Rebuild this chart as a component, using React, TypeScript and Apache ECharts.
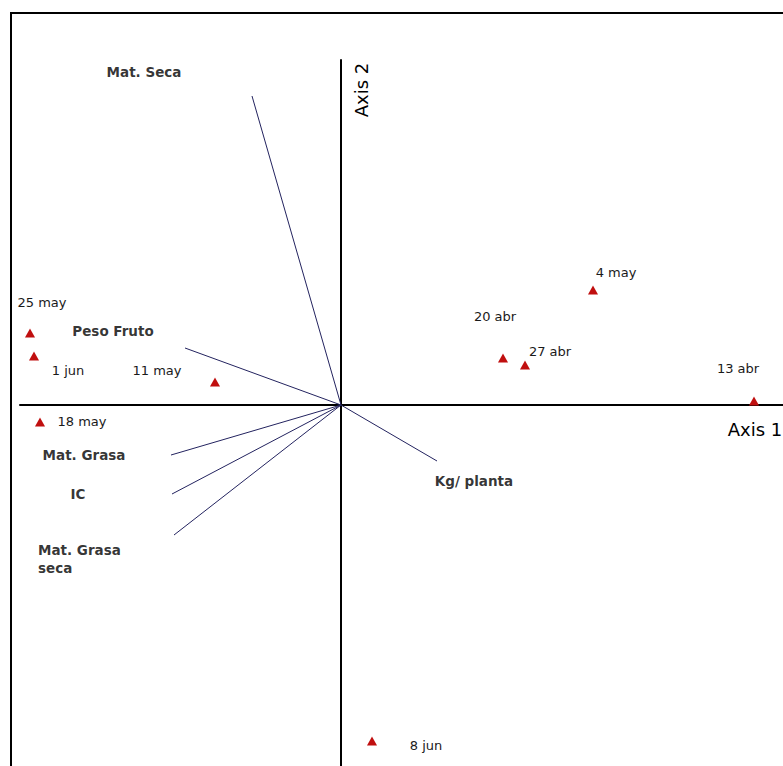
import React, { useEffect, useRef } from "react";
import * as echarts from "echarts";

// Sampling dates (object scores on axis 1 / axis 2)
const dateNames = ["25 may", "1 jun", "18 may", "11 may", "20 abr", "27 abr", "4 may", "13 abr", "8 jun"];
const dateAxis1 = [-1.555, -1.535, -1.505, -0.63, 0.81, 0.92, 1.26, 2.065, 0.155];
const dateAxis2 = [0.36, 0.245, -0.085, 0.115, 0.235, 0.2, 0.575, 0.02, -1.68];

// Variable vectors (loadings on axis 1 / axis 2)
const varNames = ["Mat. Seca", "Peso Fruto", "Mat. Grasa", "IC", "Mat. Grasa\nseca", "Kg/ planta"];
const varAxis1 = [-0.445, -0.78, -0.85, -0.845, -0.835, 0.48];
const varAxis2 = [1.545, 0.285, -0.25, -0.445, -0.65, -0.28];

// label placement relative to each mark (pixels)
const dateLabelOffset: Record<string, [number, number]> = {
  "25 may": [12, -31],
  "1 jun": [34, 14],
  "18 may": [42, -1],
  "11 may": [-58, -12],
  "20 abr": [-8, -42],
  "27 abr": [25, -14],
  "4 may": [23, -18],
  "13 abr": [-16, -33],
  "8 jun": [54, 4],
};
const varLabelLayout: Record<string, { offset: [number, number]; align: string }> = {
  "Mat. Seca": { offset: [-108, -24], align: "center" },
  "Peso Fruto": { offset: [-72, -17], align: "center" },
  "Mat. Grasa": { offset: [-87, 0], align: "center" },
  IC: { offset: [-94, 0], align: "center" },
  "Mat. Grasa\nseca": { offset: [-136, 24], align: "left" },
  "Kg/ planta": { offset: [37, 20], align: "center" },
};

const FONT = "'DejaVu Sans', Arial, sans-serif";

export default function App() {
  const ref = useRef<HTMLDivElement>(null);

  useEffect(() => {
    if (!ref.current) return;
    const chart = echarts.init(ref.current, undefined, { renderer: "svg" });

    const dateData = dateNames.map((n, i) => ({
      name: n,
      value: [dateAxis1[i], dateAxis2[i]],
      label: { offset: dateLabelOffset[n] },
    }));
    const vectorData = varNames.map((n, i) => ({
      name: n,
      coords: [
        [0, 0],
        [varAxis1[i], varAxis2[i]],
      ],
    }));
    const varLabelData = varNames.map((n, i) => ({
      name: n,
      value: [varAxis1[i], varAxis2[i]],
      label: { offset: varLabelLayout[n].offset, align: varLabelLayout[n].align },
    }));

    chart.setOption({
      animation: false,
      backgroundColor: "#ffffff",
      grid: { left: 20, right: 0, top: 60, bottom: 0, containLabel: false },
      xAxis: {
        type: "value",
        min: -1.605,
        max: 2.21,
        axisLine: { show: true, onZero: true, lineStyle: { color: "#000", width: 2 } },
        axisTick: { show: false },
        axisLabel: { show: false },
        splitLine: { show: false },
      },
      yAxis: {
        type: "value",
        min: -1.805,
        max: 1.725,
        axisLine: { show: true, onZero: true, lineStyle: { color: "#000", width: 2 } },
        axisTick: { show: false },
        axisLabel: { show: false },
        splitLine: { show: false },
      },
      graphic: [
        { type: "line", shape: { x1: 10, y1: 13, x2: 783, y2: 13 }, style: { stroke: "#000", lineWidth: 2 } },
        { type: "line", shape: { x1: 11, y1: 12, x2: 11, y2: 766 }, style: { stroke: "#000", lineWidth: 2 } },
        {
          type: "text",
          x: 755,
          y: 429,
          style: { text: "Axis 1", font: `18px ${FONT}`, fill: "#000", textAlign: "center", textVerticalAlign: "middle" },
        },
        {
          type: "text",
          x: 361,
          y: 90,
          rotation: Math.PI / 2,
          style: { text: "Axis 2", font: `18px ${FONT}`, fill: "#000", textAlign: "center", textVerticalAlign: "middle" },
        },
      ],
      series: [
        {
          name: "Vectores",
          type: "lines",
          coordinateSystem: "cartesian2d",
          z: 3,
          lineStyle: { color: "#23235f", width: 1, opacity: 1, curveness: 0 },
          symbol: ["none", "none"],
          data: vectorData,
        },
        {
          name: "Variables",
          type: "scatter",
          symbolSize: 0,
          z: 4,
          label: {
            show: true,
            position: "inside",
            formatter: (p: any) => p.name,
            color: "#000",
            textBorderWidth: 0,
            fontFamily: FONT,
            fontWeight: "bold",
            fontSize: 13.5,
            lineHeight: 18,
          },
          data: varLabelData,
        },
        {
          name: "Fechas",
          type: "scatter",
          symbol: "triangle",
          symbolSize: [10, 9],
          z: 5,
          itemStyle: { color: "#c00f0f", opacity: 1 },
          label: {
            show: true,
            position: "inside",
            formatter: (p: any) => p.name,
            color: "#1a1a1a",
            textBorderWidth: 0,
            fontFamily: FONT,
            fontSize: 13,
          },
          data: dateData,
        },
      ],
    });

    return () => chart.dispose();
  }, []);

  return (
    <div
      ref={ref}
      style={{ position: "absolute", left: 0, top: 0, width: 783, height: 766, background: "#fff" }}
    />
  );
}
